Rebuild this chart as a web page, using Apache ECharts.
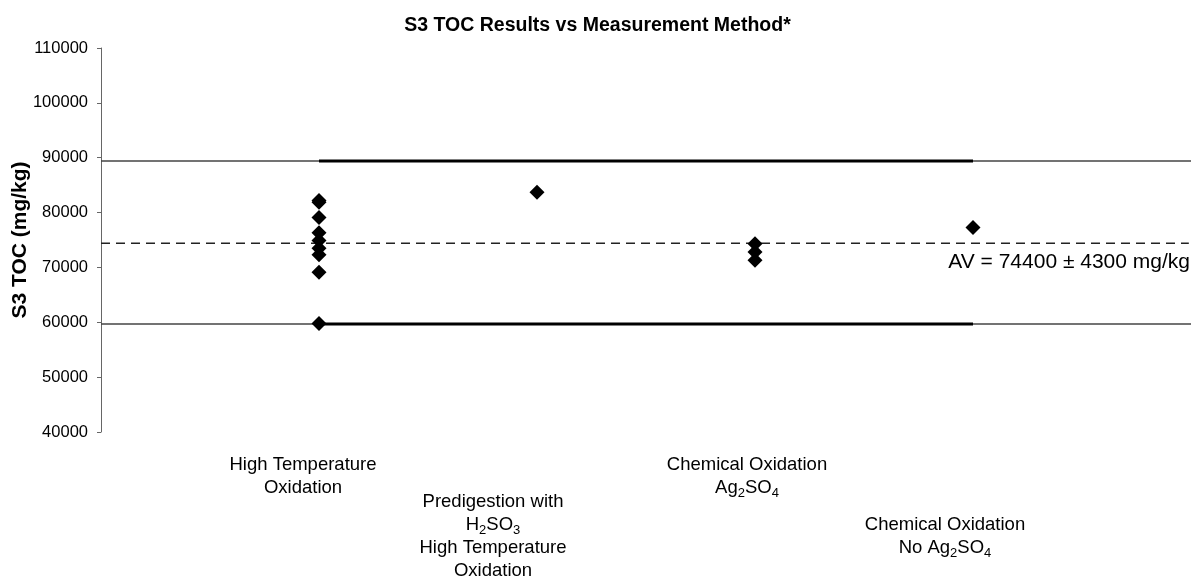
<!DOCTYPE html>
<html>
<head>
<meta charset="utf-8">
<title>S3 TOC Results vs Measurement Method</title>
<script src="https://cdn.jsdelivr.net/npm/echarts@6/dist/echarts.min.js"></script>
<style>
    html, body { margin: 0; padding: 0; background: #fff; }
    #chart { width: 1195px; height: 583px; }
</style>
</head>
<body>
<div id="chart"></div>
<script>
// method index on the x scale (1..4) and the results for each one
var htoValues = [82200, 81900, 79100, 76300, 74900, 73500, 72300, 69100, 59800];
var predigestValues = [83700];
var chemAgValues = [74300, 72800, 71300];
var chemNoAgValues = [77300];

var assignedValue = 74400;
var upperLimit = 89400;
var lowerLimit = 59700;

var yTicks = [40000, 50000, 60000, 70000, 80000, 90000, 100000, 110000];

var catLabels = [
    'High Temperature\nOxidation',
    'Predigestion with\nH{s|2}SO{s|3}\nHigh Temperature\nOxidation',
    'Chemical Oxidation\nAg{s|2}SO{s|4}',
    'Chemical Oxidation\nNo Ag{s|2}SO{s|4}'
];

var FONT = '"Liberation Sans", Arial, sans-serif';

function toPoints(idx, arr) {
    return arr.map(function (v) { return [idx, v]; });
}

function limitSeries(v, from, to, width, color) {
    return {
        type: 'line',
        data: [[from, v], [to, v]],
        symbol: 'none',
        silent: true,
        z: 1,
        lineStyle: { color: color, width: width }
    };
}

function catText(i, cx, top) {
    return {
        type: 'text',
        x: cx,
        y: top,
        silent: true,
        style: {
            text: catLabels[i],
            fontFamily: FONT,
            fontSize: 18.5,
            lineHeight: 23,
            fill: '#000',
            align: 'center',
            verticalAlign: 'top',
            rich: {
                s: { fontSize: 13, lineHeight: 13, padding: [11, 0, 0, 0], fontFamily: FONT, fill: '#000' }
            }
        }
    };
}

function init() {
    var chart = echarts.init(document.getElementById('chart'));

    var option = {
        animation: false,
        backgroundColor: '#fff',
        textStyle: { fontFamily: FONT },
        title: {
            text: 'S3 TOC Results vs Measurement Method*',
            left: 'center',
            top: 16,
            padding: 0,
            textStyle: { fontFamily: FONT, fontSize: 19.5, fontWeight: 'bold', color: '#000' }
        },
        grid: {
            left: 101, right: 4, top: 48, bottom: 151,
            containLabel: false,
            outerBoundsMode: 'none'
        },
        xAxis: {
            type: 'value',
            min: 0,
            max: 5,
            show: false
        },
        yAxis: {
            type: 'value',
            min: yTicks[0],
            max: yTicks[yTicks.length - 1],
            interval: 10000,
            name: 'S3 TOC (mg/kg)',
            nameLocation: 'middle',
            nameGap: 70,
            nameMoveOverlap: false,
            nameTextStyle: { fontFamily: FONT, fontSize: 21, fontWeight: 'bold', color: '#000' },
            axisLine: { show: true, lineStyle: { color: '#666', width: 1 } },
            axisTick: { show: true, length: 4, lineStyle: { color: '#666' } },
            axisLabel: {
                fontFamily: FONT,
                fontSize: 16.5,
                color: '#000',
                margin: 13,
                formatter: function (v) { return String(v); }
            },
            splitLine: { show: false }
        },
        series: [
            limitSeries(upperLimit, 0, 5, 1.5, '#444'),
            limitSeries(lowerLimit, 0, 5, 1.5, '#444'),
            limitSeries(upperLimit, 1, 4, 3, '#000'),
            limitSeries(lowerLimit, 1, 4, 3, '#000'),
            {
                type: 'line',
                data: [[0, assignedValue], [4.99, assignedValue]],
                symbol: 'none',
                silent: true,
                z: 1,
                lineStyle: { color: '#222', width: 1.5, type: [9, 6] }
            },
            {
                type: 'scatter',
                symbol: 'diamond',
                symbolSize: 15,
                itemStyle: { color: '#000', opacity: 1 },
                z: 3,
                data: toPoints(1, htoValues)
                    .concat(toPoints(2, predigestValues))
                    .concat(toPoints(3, chemAgValues))
                    .concat(toPoints(4, chemNoAgValues))
            }
        ],
        graphic: [
            catText(0, 303, 453),
            catText(1, 493, 490),
            catText(2, 747, 453),
            catText(3, 945, 513),
            {
                type: 'text',
                right: 5,
                top: 252,
                silent: true,
                style: {
                    text: 'AV = ' + assignedValue + ' \u00b1 4300 mg/kg',
                    fontFamily: FONT,
                    fontSize: 21,
                    fill: '#000'
                }
            }
        ]
    };
    chart.setOption(option);
}

init();
</script>
</body>
</html>
